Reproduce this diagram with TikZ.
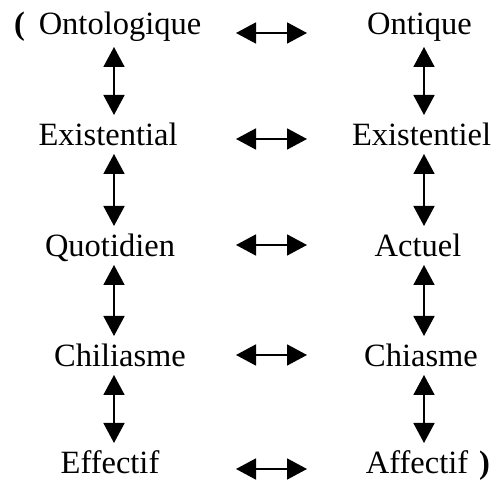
\documentclass[tikz,border=0pt]{standalone}
\usepackage{fontspec}
\setmainfont{Liberation Serif}
\usetikzlibrary{arrows.meta}
\begin{document}
\begin{tikzpicture}[x=1pt,y=1pt,
  lbl/.style={inner sep=0pt, anchor=base, font=\fontsize{32.5}{39}\selectfont},
  par/.style={inner sep=0pt, anchor=base west, font=\fontsize{32.5}{39}\selectfont\bfseries},
  dbl/.style={line width=1.7pt, {Triangle[width=21pt,length=20pt]}-{Triangle[width=21pt,length=20pt]}}]
\useasboundingbox (0,0) rectangle (496,481);
\coordinate (colL) at (114,0);
\coordinate (colR) at (424,0);
\coordinate (hl) at (236,0);
\coordinate (hr) at (307,0);
% left column
\node[lbl] (L1) at (120,446) {Ontologique};
\node[lbl] (L2) at (108,335) {Existential};
\node[lbl] (L3) at (110,224) {Quotidien};
\node[lbl] (L4) at (120,114) {Chiliasme};
\node[lbl] (L5) at (110,7) {Effectif};
% right column
\node[lbl] (R1) at (419.5,446) {Ontique};
\node[lbl] (R2) at (421.5,335) {Existentiel};
\node[lbl] (R3) at (418,224) {Actuel};
\node[lbl] (R4) at (421,114) {Chiasme};
\node[lbl] (R5) at (417,7) {Affectif};
% parentheses
\node[par] (P1) at (14,446) {(};
\node[par] (P2) at (479,7) {)};
% vertical arrows
\foreach \a/\b/\s in {1/2/12,2/3/8,3/4/8,4/5/8}{
  \draw[dbl] ([yshift=-\s pt]L\a.base -| colL) -- ([yshift=31pt]L\b.base -| colL);
  \draw[dbl] ([yshift=-\s pt]R\a.base -| colR) -- ([yshift=31pt]R\b.base -| colR);
}
% horizontal arrows
\foreach \a/\h in {1/2,2/7,3/12,4/12,5/5}{
  \draw[dbl] ([yshift=\h pt]L\a.base -| hl) -- ([yshift=\h pt]L\a.base -| hr);
}
\end{tikzpicture}
\end{document}
